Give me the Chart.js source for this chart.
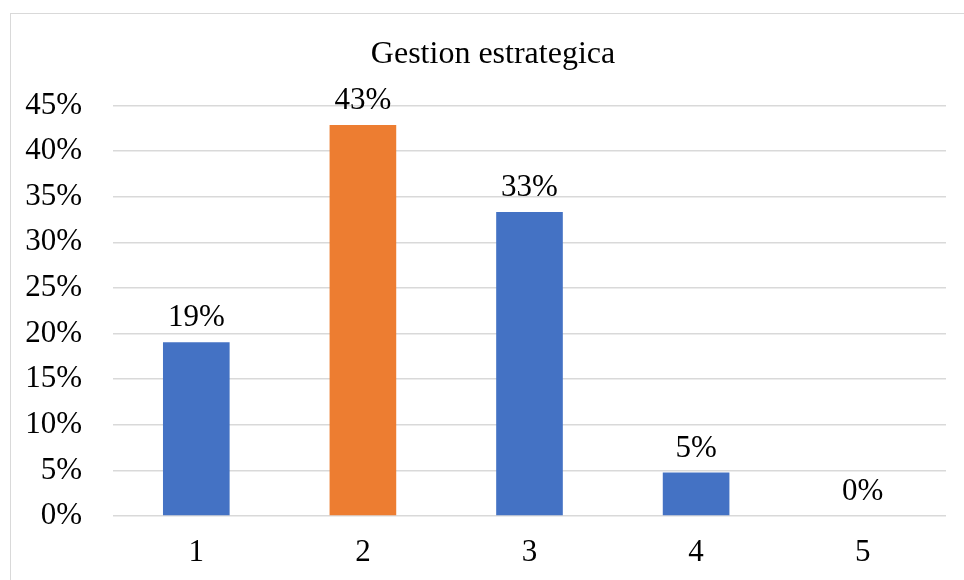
<!DOCTYPE html>
<html>
<head>
<meta charset="utf-8">
<script src="https://cdn.jsdelivr.net/npm/chart.js@4.4.1/dist/chart.umd.min.js"></script>
<style>
  html, body { margin: 0; padding: 0; background: #ffffff; overflow: hidden; }
  body { width: 964px; height: 580px; position: relative; }
  #frame {
    position: absolute; left: 10px; top: 13px;
    width: 1000px; height: 620px;
    border: 1.5px solid #d9d9d9; box-sizing: border-box;
  }
  #wrap { position: absolute; left: 0; top: 0; width: 964px; height: 580px; }
</style>
</head>
<body>
<div id="frame"></div>
<div id="wrap"><canvas id="chart" width="964" height="580"></canvas></div>
<script>
// Response scale (1-5) and share of answers for each level
const categories = ['1', '2', '3', '4', '5'];
const shares = [19.05, 42.86, 33.33, 4.76, 0];
const barColors = ['#4472C4', '#ED7D31', '#4472C4', '#4472C4', '#4472C4'];
const yTicks = [0, 5, 10, 15, 20, 25, 30, 35, 40, 45];

const SERIF = '"Liberation Serif", "Times New Roman", serif';

// Percentage labels above each bar
const valueLabels = {
  id: 'valueLabels',
  afterDatasetsDraw(chart) {
    const ctx = chart.ctx;
    const meta = chart.getDatasetMeta(0);
    const data = chart.data.datasets[0].data;
    ctx.save();
    ctx.font = '31px ' + SERIF;
    ctx.fillStyle = '#000000';
    ctx.textAlign = 'center';
    ctx.textBaseline = 'alphabetic';
    meta.data.forEach((bar, i) => {
      ctx.fillText(Math.round(data[i]) + '%', bar.x, bar.y - 16);
    });
    ctx.restore();
  }
};

// Centre the title on the outer frame rather than on the canvas
const titleCentering = {
  id: 'titleCentering',
  afterLayout(chart) {
    const t = chart.titleBlock;
    if (t) { t.left += 20; t.right += 20; }
  }
};

new Chart(document.getElementById('chart'), {
  type: 'bar',
  data: {
    labels: categories,
    datasets: [{
      data: shares,
      backgroundColor: barColors,
      borderWidth: 0,
      barPercentage: 0.4,
      categoryPercentage: 1.0
    }]
  },
  options: {
    responsive: false,
    animation: false,
    events: [],
    layout: { padding: { left: 0, right: 18, top: 0, bottom: 0 } },
    plugins: {
      legend: { display: false },
      tooltip: { enabled: false },
      title: {
        display: true,
        text: 'Gestion estrategica',
        color: '#000000',
        font: { family: SERIF, size: 32, weight: 'normal', lineHeight: 1.2 },
        padding: { top: 35, bottom: 32 }
      }
    },
    scales: {
      x: {
        grid: { display: false, drawTicks: false },
        border: { display: false },
        ticks: {
          color: '#000000',
          font: { family: SERIF, size: 31 },
          padding: 18
        },
        afterFit(scale) { scale.height = 64; }
      },
      y: {
        min: 0,
        max: 45,
        grid: { color: '#d9d9d9', lineWidth: 1.5, drawTicks: false },
        border: { display: false },
        afterBuildTicks(scale) { scale.ticks = yTicks.map(v => ({ value: v })); },
        ticks: {
          color: '#000000',
          font: { family: SERIF, size: 31 },
          padding: 31,
          callback: (v) => v + '%'
        },
        afterFit(scale) { scale.width = 113; }
      }
    }
  },
  plugins: [valueLabels, titleCentering]
});
</script>
</body>
</html>
